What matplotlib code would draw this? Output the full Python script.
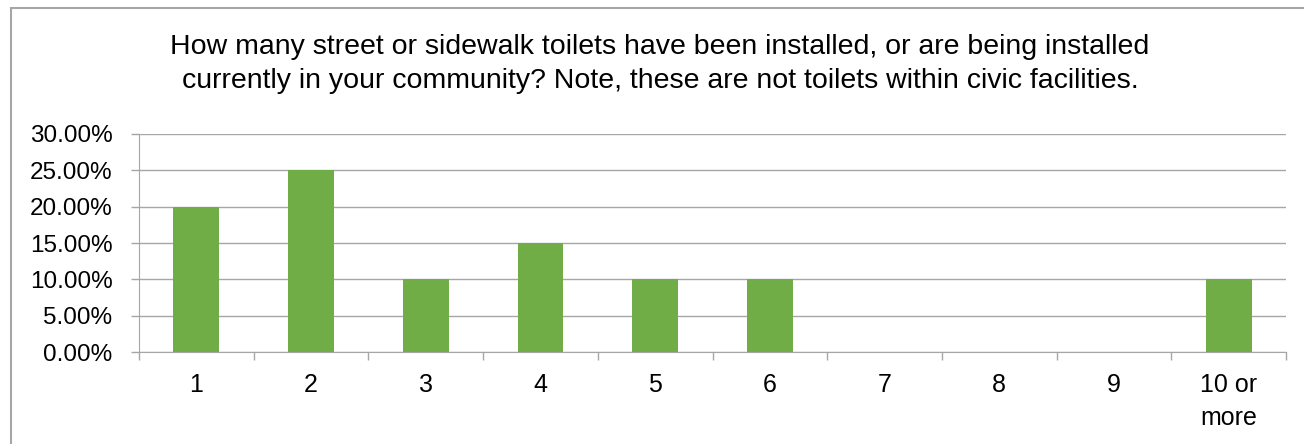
import matplotlib.pyplot as plt
from matplotlib.patches import Rectangle
from matplotlib.ticker import FuncFormatter, MultipleLocator
import numpy as np

plt.rcParams["font.family"] = ["Liberation Sans", "DejaVu Sans"]

categories = ["1", "2", "3", "4", "5", "6", "7", "8", "9", "10 or\nmore"]
shares = [0.20, 0.25, 0.10, 0.15, 0.10, 0.10, 0.0, 0.0, 0.0, 0.10]

title = ("How many street or sidewalk toilets have been installed, or are being installed\n"
         "currently in your community? Note, these are not toilets within civic facilities.")

bar_color = "#70ad47"
grid_color = "#a6a6a6"

fig = plt.figure(figsize=(13.04, 4.44), dpi=100)
fig.patches.append(Rectangle((11 / 1304, -0.1), 1.2, (444 - 8) / 444 + 0.1,
                             transform=fig.transFigure, fill=False,
                             edgecolor="#a6a6a6", linewidth=1.5))
ax = fig.add_axes([139 / 1304, 92 / 444, 1147 / 1304, 218 / 444])

x = np.arange(len(categories))
ax.bar(x, shares, width=0.4, color=bar_color, zorder=3)

ax.set_xlim(-0.5, len(categories) - 0.5)
ax.set_ylim(0, 0.30)
ax.yaxis.set_major_locator(MultipleLocator(0.05))
ax.yaxis.set_major_formatter(FuncFormatter(lambda v, _: f"{v * 100:.2f}%"))
ax.grid(axis="y", color=grid_color, linewidth=1, zorder=0)

ax.set_xticks(x)
ax.set_xticklabels(categories, linespacing=1.5)
ax.set_xticks(np.arange(-0.5, len(categories)), minor=True)
ax.tick_params(axis="x", which="major", length=0, pad=15, labelsize=18)
ax.tick_params(axis="x", which="minor", length=6, color=grid_color, width=1)
ax.tick_params(axis="y", length=6, color=grid_color, width=1, pad=13, labelsize=17.5)

for side in ("top", "right"):
    ax.spines[side].set_visible(False)
for side in ("left", "bottom"):
    ax.spines[side].set_color(grid_color)

fig.text(660 / 1304, 1 - 64 / 444, title, ha="center", va="center",
         fontsize=20.5, linespacing=1.42)

fig.savefig("out.png", dpi=100)
